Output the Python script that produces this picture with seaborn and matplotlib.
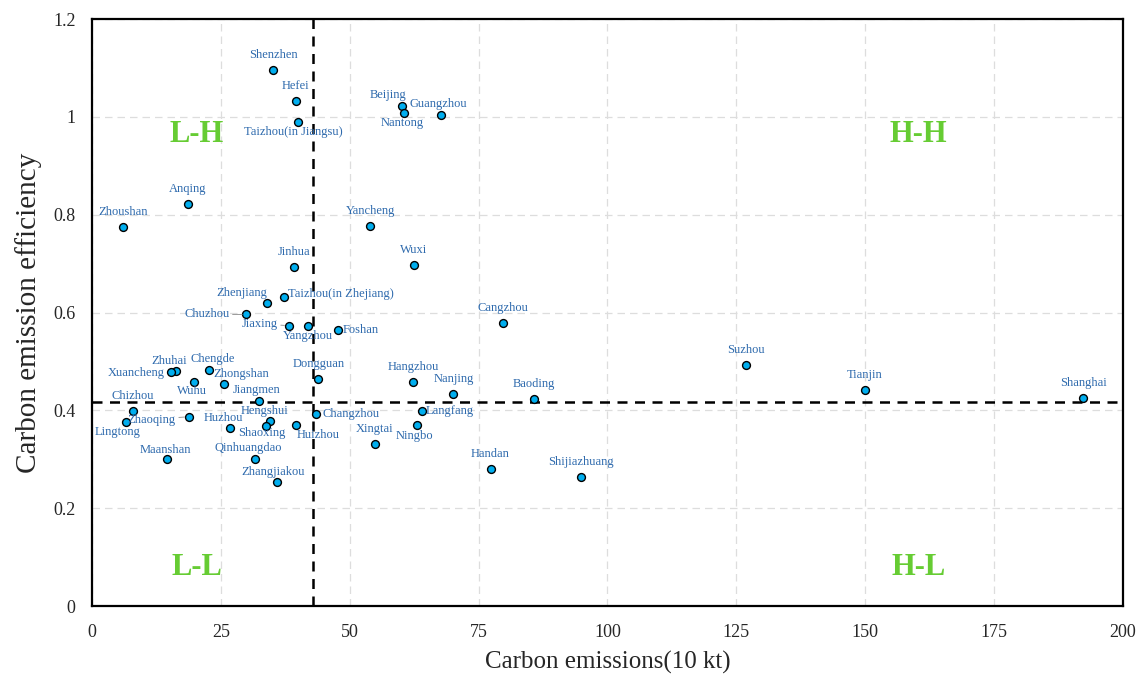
import matplotlib
matplotlib.use("Agg")
import matplotlib.pyplot as plt
import seaborn as sns
import pandas as pd

# city data
cities = ["Shenzhen", "Hefei", "Taizhou(in Jiangsu)", "Beijing", "Nantong", "Guangzhou",
          "Anqing", "Zhoushan", "Yancheng", "Jinhua", "Wuxi", "Zhenjiang",
          "Taizhou(in Zhejiang)", "Chuzhou", "Jiaxing", "Yangzhou", "Foshan", "Cangzhou",
          "Suzhou", "Tianjin", "Shanghai", "Baoding", "Nanjing", "Hangzhou", "Dongguan",
          "Langfang", "Ningbo", "Xingtai", "Handan", "Shijiazhuang", "Changzhou", "Huizhou",
          "Hengshui", "Shaoxing", "Huzhou", "Qinhuangdao", "Zhangjiakou", "Jiangmen",
          "Zhongshan", "Chengde", "Wuhu", "Zhuhai", "Xuancheng", "Chizhou", "Zhaoqing",
          "Lingtong", "Maanshan"]
emissions = [35.1, 39.5, 40.0, 60.1, 60.6, 67.6,
             18.5, 6.0, 54.0, 39.1, 62.4, 34.0,
             37.2, 29.9, 38.1, 41.9, 47.6, 79.7,
             126.8, 149.9, 192.3, 85.7, 70.1, 62.3, 43.9,
             64.0, 63.1, 54.8, 77.3, 94.9, 43.4, 39.5,
             34.4, 33.7, 26.7, 31.5, 35.8, 32.3,
             25.5, 22.6, 19.7, 16.2, 15.2, 7.9, 18.7,
             6.5, 14.5]
efficiency = [1.095, 1.033, 0.990, 1.022, 1.008, 1.003,
              0.821, 0.775, 0.777, 0.694, 0.698, 0.620,
              0.632, 0.596, 0.573, 0.572, 0.565, 0.578,
              0.493, 0.442, 0.425, 0.423, 0.433, 0.458, 0.464,
              0.399, 0.370, 0.331, 0.281, 0.264, 0.393, 0.370,
              0.378, 0.368, 0.364, 0.301, 0.254, 0.419,
              0.454, 0.483, 0.458, 0.481, 0.479, 0.399, 0.387,
              0.376, 0.301]

x_split = 42.8
y_split = 0.417
quadrants = ["L-H", "H-H", "L-L", "H-L"]

df = pd.DataFrame({"city": cities, "emissions": emissions, "efficiency": efficiency})

# label offsets in pixels (dx, dy, ha, leader line)
offsets = {
    "Taizhou(in Jiangsu)": (-5, -10, "center", False),
    "Beijing": (-14, 11, "center", False),
    "Nantong": (-2, -10, "center", False),
    "Guangzhou": (-2, 11, "center", False),
    "Zhenjiang": (-26, 10, "center", False),
    "Taizhou(in Zhejiang)": (4, 3, "left", False),
    "Chuzhou": (-17, 0, "right", True),
    "Jiaxing": (-11, 2, "right", True),
    "Yangzhou": (0, -10, "center", False),
    "Foshan": (5, 0, "left", False),
    "Langfang": (4, 0, "left", False),
    "Ningbo": (-3, -11, "center", False),
    "Changzhou": (7, 0, "left", False),
    "Huizhou": (22, -10, "center", False),
    "Hengshui": (-5, 10, "center", False),
    "Shaoxing": (-4, -7, "center", False),
    "Huzhou": (-6, 10, "center", False),
    "Qinhuangdao": (-6, 11, "center", False),
    "Zhangjiakou": (-4, 10, "center", False),
    "Jiangmen": (-2, 11, "center", False),
    "Zhongshan": (18, 10, "center", False),
    "Chengde": (4, 11, "center", False),
    "Wuhu": (-2, -9, "center", False),
    "Zhuhai": (-7, 10, "center", False),
    "Xuancheng": (-6, -1, "right", False),
    "Zhaoqing": (-13, -3, "right", True),
    "Lingtong": (-8, -10, "center", False),
    "Maanshan": (-2, 9, "center", False),
}

sns.set_style("white")
plt.rcParams["font.family"] = ["Liberation Serif", "DejaVu Serif"]

fig, ax = plt.subplots(figsize=(11.42, 6.79), dpi=100)
fig.subplots_adjust(left=0.0808, right=0.9831, top=0.972, bottom=0.1075)

ax.set_axisbelow(True)
ax.grid(True, color="#dddddd", linestyle=(0, (6, 4)), linewidth=0.9)

sns.scatterplot(data=df, x="emissions", y="efficiency", ax=ax, s=32,
                color="#00aeef", edgecolor="black", linewidth=1.0, zorder=3)

ax.axvline(x_split, color="black", linestyle=(0, (4, 3)), linewidth=1.8, zorder=2)
ax.axhline(y_split, color="black", linestyle=(0, (4, 3)), linewidth=1.8, zorder=2)

label_color = "#2e6aad"
for c, xv, yv in zip(cities, emissions, efficiency):
    dx, dy, ha, leader = offsets.get(c, (0, 15, "center", False))
    kw = {}
    if leader:
        kw["arrowprops"] = dict(arrowstyle="-", color="#999999", lw=0.7,
                                shrinkA=0, shrinkB=3)
    ax.annotate(c, (xv, yv), xytext=(dx, dy), textcoords="offset pixels",
                ha=ha, va="center", fontsize=9, color=label_color, zorder=4, **kw)

green = "#66cc33"
qpos = [(20.3, 0.963), (160.4, 0.963), (20.3, 0.078), (160.4, 0.078)]
for q, (qx, qy) in zip(quadrants, qpos):
    ax.text(qx, qy, q, color=green, fontsize=22, fontweight="bold",
            ha="center", va="center")

ax.set_xlim(0, 200)
ax.set_ylim(0, 1.2)
ax.set_xticks(range(0, 201, 25))
ax.set_yticks([0, 0.2, 0.4, 0.6, 0.8, 1.0, 1.2])
ax.set_yticklabels(["0", "0.2", "0.4", "0.6", "0.8", "1", "1.2"])
ax.tick_params(axis="x", labelsize=13, length=0, pad=13)
ax.tick_params(axis="y", labelsize=13, length=0, pad=12)
ax.set_xlabel("Carbon emissions(10 kt)", fontsize=18, labelpad=7)
ax.set_ylabel("Carbon emission efficiency", fontsize=21, labelpad=8)
for sp in ax.spines.values():
    sp.set_color("black")
    sp.set_linewidth(1.6)

fig.savefig("out.png", dpi=100)
